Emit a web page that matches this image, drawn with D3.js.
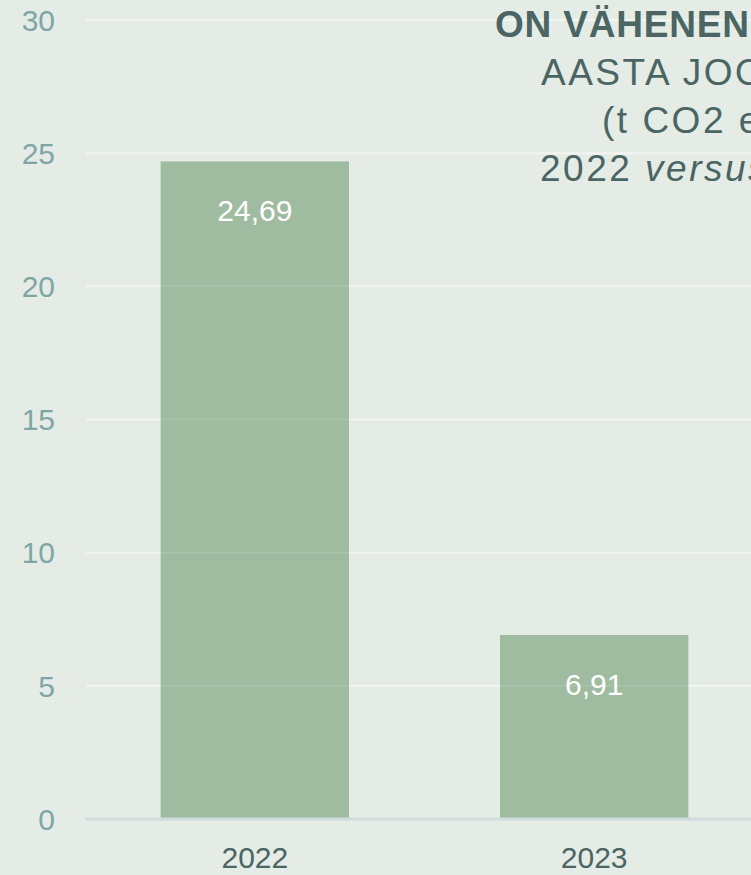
<!DOCTYPE html>
<html>
<head>
<meta charset="utf-8">
<script src="https://cdn.jsdelivr.net/npm/d3@7"></script>
<style>
    html, body { margin: 0; padding: 0; background: #e5ece5; overflow: hidden; }
    #chartDiv { width: 751px; height: 875px; }
    text { font-family: "Liberation Sans", Arial, Helvetica, sans-serif; }
</style>
</head>
<body>
<div id="chartDiv"></div>
<script>

// Data
let years = ["2022", "2023"];
let emissions = [24.69, 6.91];
let yTicks = [0, 5, 10, 15, 20, 25, 30];

// Title lines (the chart is cut off on the right, only the start of each line shows)
let titleLines = [
    [{text: "ON VÄHENENUD", bold: true}],
    [{text: "AASTA JOOKSUL"}],
    [{text: "(t CO2 ekv)"}],
    [{text: "2022 "}, {text: "versus", italic: true}, {text: " 2023"}]
];

class emissionBar {
    constructor(parentElement){
        this.parentElement = parentElement;
        this.initVis()
    }

    initVis(){
        let vis = this;

        vis.margin = {top: 20, right: 0, bottom: 56, left: 86};

        vis.totalWidth = document.getElementById(vis.parentElement).clientWidth;
        vis.totalHeight = document.getElementById(vis.parentElement).clientHeight;
        vis.width = vis.totalWidth - vis.margin.left - vis.margin.right;
        vis.height = vis.totalHeight - vis.margin.top - vis.margin.bottom;

        vis.svg = d3.select("#" + vis.parentElement).append("svg")
            .attr("width", vis.totalWidth)
            .attr("height", vis.totalHeight)
            .append("g")
            .attr("transform", "translate(" + vis.margin.left + "," + vis.margin.top + ")");

        // band scale runs past the right edge like in the original
        vis.x = d3.scaleBand()
            .range([0, 677])
            .paddingInner(0.445)
            .paddingOuter(0.22);

        vis.y = d3.scaleLinear()
            .range([vis.height, 0]);

        vis.gridGroup = vis.svg.append("g").attr("class", "grid");
        vis.barGroup = vis.svg.append("g").attr("class", "bars");
        vis.gridTop = vis.svg.append("g").attr("class", "grid-top");
        vis.labelGroup = vis.svg.append("g").attr("class", "labels");

        vis.svg.append("g")
            .attr("class", "y-axis axis");

        vis.svg.append("g")
            .attr("class", "x-axis axis")
            .attr("transform", "translate(0," + vis.height + ")");

        vis.titleGroup = vis.svg.append("g").attr("class", "title");

        vis.wrangleData()
    }

    wrangleData(){
        let vis = this;
        vis.data = years.map((y, i) => ({year: y, value: emissions[i]}));
        vis.updateVis()
    }

    updateVis(){
        let vis = this;

        let fmt = d3.formatLocale({decimal: ",", thousands: " ", grouping: [3], currency: ["", " €"]}).format(".2f");

        vis.x.domain(vis.data.map(d => d.year));
        vis.y.domain([0, d3.max(yTicks)]);

        // gridlines (behind bars)
        vis.gridGroup.selectAll("line")
            .data(yTicks.filter(t => t > 0))
            .join("line")
            .attr("x1", 0)
            .attr("x2", vis.width)
            .attr("y1", d => vis.y(d))
            .attr("y2", d => vis.y(d))
            .attr("stroke", "#f1f4f1")
            .attr("stroke-width", 2);

        // bars
        vis.barGroup.selectAll(".bar")
            .data(vis.data)
            .join("rect")
            .attr("class", "bar")
            .attr("x", d => vis.x(d.year))
            .attr("y", d => vis.y(d.value))
            .attr("width", vis.x.bandwidth())
            .attr("height", d => vis.height - vis.y(d.value))
            .attr("fill", "#9fbca0");

        // faint gridlines on top of bars
        vis.gridTop.selectAll("line")
            .data(yTicks.filter(t => t > 0))
            .join("line")
            .attr("x1", 0)
            .attr("x2", vis.width)
            .attr("y1", d => vis.y(d))
            .attr("y2", d => vis.y(d))
            .attr("stroke", "#ffffff")
            .attr("stroke-opacity", 0.1)
            .attr("stroke-width", 2);

        // value labels inside bars
        vis.labelGroup.selectAll(".labels")
            .data(vis.data)
            .join("text")
            .attr("class", "labels")
            .attr("x", d => vis.x(d.year) + vis.x.bandwidth() / 2)
            .attr("y", d => vis.y(d.value) + 60)
            .attr("text-anchor", "middle")
            .attr("font-size", "30px")
            .attr("fill", "#ffffff")
            .text(d => fmt(d.value));

        // y axis
        vis.yAxis = d3.axisLeft(vis.y)
            .tickValues(yTicks)
            .tickSize(0)
            .tickPadding(31)
            .tickFormat(d3.format("d"));

        vis.svg.select(".y-axis").call(vis.yAxis);
        vis.svg.select(".y-axis").select(".domain").remove();
        vis.svg.select(".y-axis").selectAll("text")
            .attr("font-family", null)
            .attr("font-size", "30px")
            .attr("fill", "#7fa6a6")
            .attr("dy", "0.34em");

        // x axis
        vis.xAxis = d3.axisBottom(vis.x)
            .tickSize(0)
            .tickPadding(28);

        vis.svg.select(".x-axis").call(vis.xAxis);
        vis.svg.select(".x-axis").select(".domain")
            .attr("d", "M0,0H" + vis.width)
            .attr("stroke", "#cddcdc")
            .attr("stroke-width", 3);
        vis.svg.select(".x-axis").selectAll("text")
            .attr("font-family", null)
            .attr("font-size", "30px")
            .attr("fill", "#4a6563")
            .attr("dy", "0.71em");

        // title, left-aligned at the visible starting point of each line
        let lineStarts = [409, 455, 516, 454];
        let title = vis.titleGroup.selectAll("text")
            .data(titleLines)
            .join("text")
            .attr("x", (d, i) => lineStarts[i])
            .attr("y", (d, i) => 17 + i * 48)
            .attr("font-size", "37px")
            .attr("letter-spacing", (d, i) => i === 0 ? "0.8px" : "2.5px")
            .attr("fill", "#4a6563");

        title.selectAll("tspan")
            .data(d => d)
            .join("tspan")
            .attr("font-weight", d => d.bold ? "bold" : "normal")
            .attr("font-style", d => d.italic ? "italic" : "normal")
            .style("white-space", "pre")
            .text(d => d.text);
    }
}

new emissionBar("chartDiv");
</script>
</body>
</html>
